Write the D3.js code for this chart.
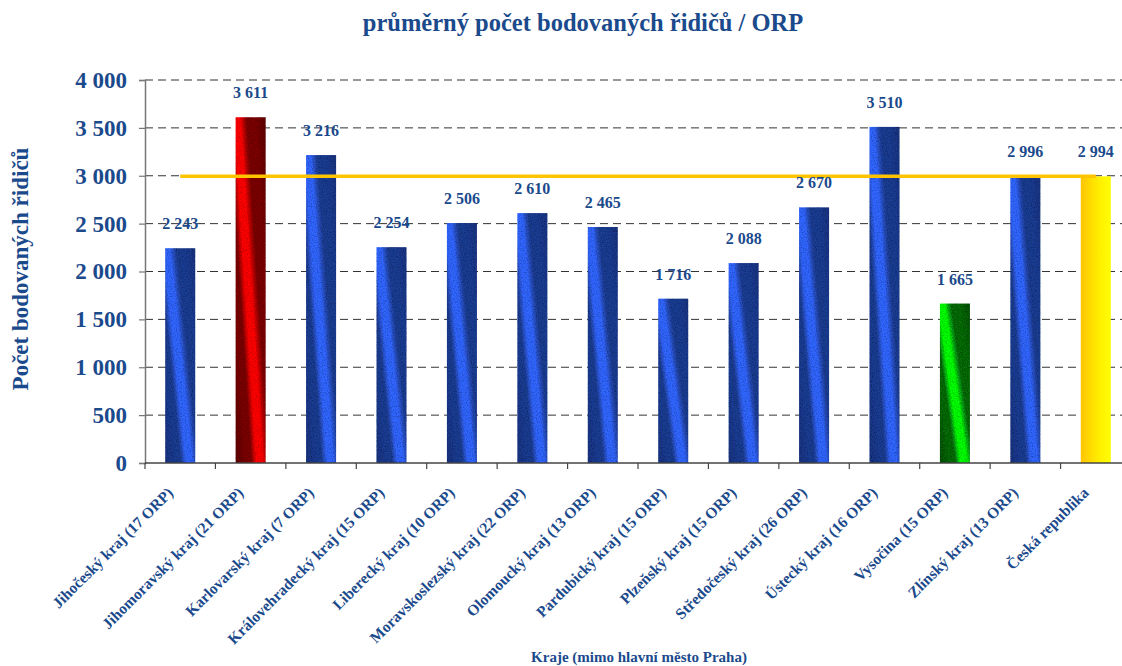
<!DOCTYPE html>
<html>
<head>
<meta charset="utf-8">
<script src="https://cdn.jsdelivr.net/npm/d3@7"></script>
<style>
  body { margin: 0; background: #fff; }
  svg { display: block; font-family: "Liberation Serif", "Times New Roman", serif; }
</style>
</head>
<body>
<div id="chart"></div>
<script>
const categories = [
  "Jihočeský kraj (17 ORP)", "Jihomoravský kraj (21 ORP)", "Karlovarský kraj (7 ORP)",
  "Královehradecký kraj (15 ORP)", "Liberecký kraj (10 ORP)", "Moravskoslezský kraj (22 ORP)",
  "Olomoucký kraj (13 ORP)", "Pardubický kraj (15 ORP)", "Plzeňský kraj (15 ORP)",
  "Středočeský kraj (26 ORP)", "Ústecký kraj (16 ORP)", "Vysočina (15 ORP)",
  "Zlínský kraj (13 ORP)", "Česká republika"
];
const values = [2243, 3611, 3216, 2254, 2506, 2610, 2465, 1716, 2088, 2670, 3510, 1665, 2996, 2994];
// which fill each bar gets
const barKinds = ["blue", "red", "blue", "blue", "blue", "blue", "blue", "blue", "blue", "blue", "blue", "green", "blue", "yellow"];
const average = 2994;
const yTicks = [0, 500, 1000, 1500, 2000, 2500, 3000, 3500, 4000];

const WIDTH = 1122, HEIGHT = 666;
const TEXT = "#1b4a8c";
const PLOT_LEFT = 145, PLOT_RIGHT = 1131, PLOT_TOP = 80, PLOT_BOTTOM = 463;

let fmt = function(v) {
  return d3.format(",")(v).replace(/,/g, " ");
};

let svg = d3.select("#chart").append("svg")
    .attr("width", WIDTH)
    .attr("height", HEIGHT);

let defs = svg.append("defs");

// slanted highlight band: bright from top-left down to bottom-right
let stripe = function(id, darkest, dark, mid, bright) {
  let g = defs.append("linearGradient")
      .attr("id", id)
      .attr("x1", 0).attr("y1", 1).attr("x2", 1.12).attr("y2", 0.16);
  [[0, darkest], [0.2, dark], [0.3, dark], [0.35, mid], [0.4, bright],
   [0.52, bright], [0.57, mid], [0.64, dark], [0.8, dark], [1, darkest]]
    .forEach(function(s) {
      g.append("stop").attr("offset", s[0]).attr("stop-color", s[1]);
    });
};
stripe("g-blue", "#1a3480", "#1f3c92", "#2a52c8", "#3366ff");
stripe("g-red", "#5e0000", "#7c0000", "#c00000", "#ff0000");
stripe("g-green", "#0a500a", "#0d6a10", "#10b816", "#00ff00");

let yg = defs.append("linearGradient").attr("id", "g-yellow")
    .attr("x1", 0).attr("y1", 0).attr("x2", 1).attr("y2", 0);
yg.append("stop").attr("offset", 0).attr("stop-color", "#ffc400");
yg.append("stop").attr("offset", 0.6).attr("stop-color", "#ffee00");
yg.append("stop").attr("offset", 1).attr("stop-color", "#ffff00");

// grainy texture on the bars
let grain = defs.append("filter").attr("id", "grain")
    .attr("x", 0).attr("y", 0).attr("width", 1).attr("height", 1);
grain.append("feTurbulence")
    .attr("type", "fractalNoise").attr("baseFrequency", 0.8)
    .attr("numOctaves", 2).attr("seed", 3).attr("result", "noise");
grain.append("feColorMatrix").attr("in", "noise").attr("type", "matrix")
    .attr("values", "0 0 0 0 0  0 0 0 0 0  0 0 0 0 0  0 0 0 -1.2 0.7")
    .attr("result", "dots");
grain.append("feComposite").attr("in", "dots").attr("in2", "SourceGraphic")
    .attr("operator", "in").attr("result", "dotsIn");
let merge = grain.append("feMerge");
merge.append("feMergeNode").attr("in", "SourceGraphic");
merge.append("feMergeNode").attr("in", "dotsIn");

let x = d3.scaleBand()
    .domain(categories)
    .range([PLOT_LEFT, PLOT_RIGHT])
    .paddingInner(0.574)
    .paddingOuter(0.287);

let y = d3.scaleLinear()
    .domain([0, 4000])
    .range([PLOT_BOTTOM, PLOT_TOP]);

// dashed grid
svg.append("g")
  .selectAll("line")
  .data(yTicks.filter(function(t) { return t > 0; }))
  .join("line")
    .attr("x1", PLOT_LEFT).attr("x2", WIDTH)
    .attr("y1", function(t) { return y(t); })
    .attr("y2", function(t) { return y(t); })
    .attr("stroke", "#333")
    .attr("stroke-width", 1)
    .attr("stroke-dasharray", "8,5");

// y axis
let yAxis = svg.append("g")
    .attr("transform", "translate(" + PLOT_LEFT + ",0)")
    .call(d3.axisLeft(y).tickValues(yTicks).tickFormat(fmt).tickSize(6).tickPadding(12));
yAxis.select(".domain").attr("stroke", "#777").attr("stroke-width", 1.5);
yAxis.selectAll(".tick line").attr("stroke", "#777").attr("stroke-width", 1.2);
yAxis.selectAll(".tick text")
    .attr("fill", TEXT)
    .attr("font-size", 23)
    .attr("font-weight", "bold")
    .attr("font-family", "Liberation Serif, Times New Roman, serif");

// bars
svg.append("g")
  .selectAll("rect")
  .data(values)
  .join("rect")
    .attr("x", function(d, i) { return x(categories[i]); })
    .attr("y", function(d) { return y(d); })
    .attr("width", x.bandwidth())
    .attr("height", function(d) { return y(0) - y(d); })
    .attr("fill", function(d, i) { return "url(#g-" + barKinds[i] + ")"; })
    .attr("filter", function(d, i) { return barKinds[i] == "yellow" ? null : "url(#grain)"; });

// x axis: baseline plus ticks at band edges
let step = x.step();
svg.append("line")
    .attr("x1", PLOT_LEFT).attr("x2", WIDTH)
    .attr("y1", y(0)).attr("y2", y(0))
    .attr("stroke", "#444").attr("stroke-width", 1.5);
svg.append("g")
  .selectAll("line")
  .data(d3.range(categories.length + 1))
  .join("line")
    .attr("x1", function(i) { return PLOT_LEFT + i * step; })
    .attr("x2", function(i) { return PLOT_LEFT + i * step; })
    .attr("y1", y(0)).attr("y2", y(0) + 6)
    .attr("stroke", "#444").attr("stroke-width", 1.2);

// average line (Česká republika) from first to last bar centre
let cx = function(c) { return x(c) + x.bandwidth() / 2; };
svg.append("line")
    .attr("x1", cx(categories[0]))
    .attr("x2", cx(categories[categories.length - 1]))
    .attr("y1", y(average)).attr("y2", y(average))
    .attr("stroke", "#ffc400")
    .attr("stroke-width", 3.5);

// value labels
svg.append("g")
  .selectAll("text")
  .data(values)
  .join("text")
    .attr("x", function(d, i) { return cx(categories[i]); })
    .attr("y", function(d) { return y(d) - 19; })
    .attr("text-anchor", "middle")
    .attr("fill", TEXT)
    .attr("font-size", 16)
    .attr("font-weight", "bold")
    .text(fmt);

// category labels, slanted
svg.append("g")
  .selectAll("text")
  .data(categories)
  .join("text")
    .attr("transform", function(c) {
      return "translate(" + (cx(c) - 10) + "," + (y(0) + 27) + ") rotate(-45)";
    })
    .attr("dy", "0.35em")
    .attr("text-anchor", "end")
    .attr("fill", TEXT)
    .attr("font-size", 15.5)
    .attr("font-weight", "bold")
    .text(function(c) { return c; });

// titles
svg.append("text")
    .attr("x", 583).attr("y", 31)
    .attr("text-anchor", "middle")
    .attr("fill", TEXT)
    .attr("font-size", 24.5)
    .attr("font-weight", "bold")
    .text("průměrný počet bodovaných řidičů / ORP");

svg.append("text")
    .attr("transform", "translate(28," + 269 + ") rotate(-90)")
    .attr("text-anchor", "middle")
    .attr("fill", TEXT)
    .attr("font-size", 23)
    .attr("font-weight", "bold")
    .text("Počet bodovaných řidičů");

svg.append("text")
    .attr("x", 639).attr("y", 662)
    .attr("text-anchor", "middle")
    .attr("fill", TEXT)
    .attr("font-size", 15)
    .attr("font-weight", "bold")
    .text("Kraje (mimo hlavní město Praha)");
</script>
</body>
</html>
